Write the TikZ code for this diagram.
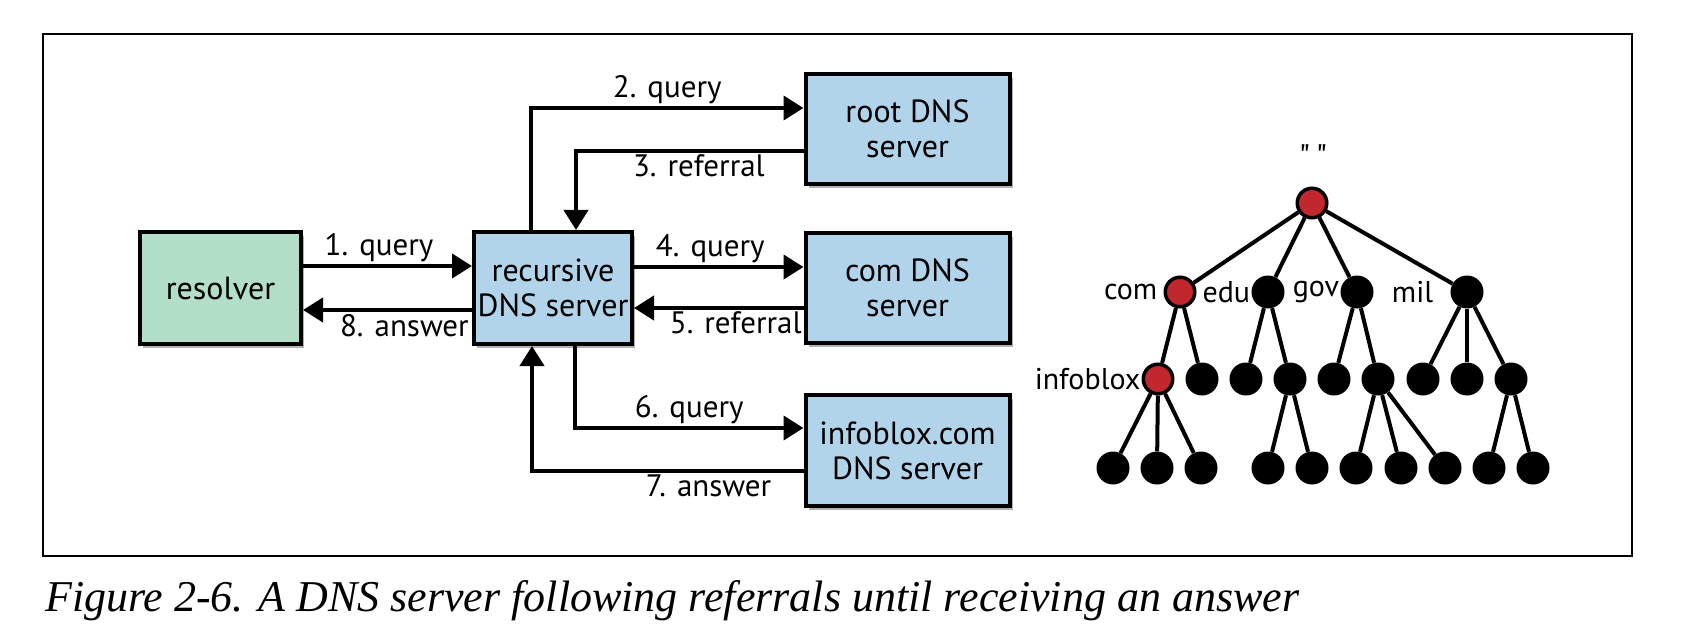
\documentclass[tikz,border=0pt]{standalone}
\usepackage{fontspec}
\newfontfamily\dsans{PT Sans}
\newfontfamily\capfont{Liberation Serif}
\usetikzlibrary{arrows.meta,shadows}
\definecolor{boxgreen}{HTML}{B3DFC9}
\definecolor{boxblue}{HTML}{B1D4EA}
\definecolor{nodered}{HTML}{C1272D}
\tikzset{
  box/.style={draw, line width=4pt, align=center, inner sep=0pt,
    font=\dsans\fontsize{32}{35}\selectfont,
    drop shadow={shadow xshift=3pt, shadow yshift=-4pt, opacity=0.3, fill=black}},
  conn/.style={line width=4pt, -{Triangle[length=20pt,width=24pt]}},
  lab/.style={font=\dsans\fontsize{31}{34}\selectfont, inner sep=2pt},
  tnode/.style={circle, fill=black, minimum size=33pt, inner sep=0pt},
  rnode/.style={circle, fill=nodered, draw=black, line width=3.5pt, minimum size=29.5pt, inner sep=0pt},
  tedge/.style={line width=4pt},
  tlab/.style={font=\dsans\fontsize{30}{32}\selectfont, inner sep=1pt}
}
\begin{document}
\begin{tikzpicture}[x=1pt,y=-1pt]
\useasboundingbox (0,0) rectangle (1689,639);
\draw[line width=1.3pt] (43,34) rectangle (1632,556);

% boxes
\node[box, fill=boxgreen, minimum width=161pt, minimum height=112pt] (res) at (220.5,288) {resolver};
\node[box, fill=boxblue, minimum width=158pt, minimum height=112pt] (rec) at (553,288) {recursive\\DNS server};
\node[box, fill=boxblue, minimum width=204pt, minimum height=110pt] (root) at (907.5,129) {root DNS\\server};
\node[box, fill=boxblue, minimum width=204pt, minimum height=110pt] (com) at (907.5,288) {com DNS\\server};
\node[box, fill=boxblue, minimum width=204pt, minimum height=111pt] (info) at (907.5,450.5) {infoblox.com\\DNS server};

% connectors
\draw[conn] ([yshift=22pt]res.east) -- node[lab, above, pos=0.45] {1. query} ([yshift=22pt]rec.west);
\draw[conn] ([yshift=-22pt]rec.west) -- node[lab, below, pos=0.4] {8. answer} ([yshift=-22pt]res.east);
\draw[conn] ([xshift=-22pt]rec.north) |- node[lab, above, pos=0.75] {2. query} ([yshift=21pt]root.west);
\draw[conn] ([yshift=-22pt]root.west) -| node[lab, below, pos=0.23] {3. referral} ([xshift=23pt]rec.north);
\draw[conn] ([yshift=21pt]rec.east) -- node[lab, above, pos=0.45] {4. query} ([yshift=21pt]com.west);
\draw[conn] ([yshift=-20pt]com.west) -- node[lab, below, pos=0.4] {5. referral} ([yshift=-20pt]rec.east);
\draw[conn] ([xshift=22pt]rec.south) |- node[lab, above, pos=0.75] {6. query} ([yshift=22.5pt]info.west);
\draw[conn] ([yshift=-20.5pt]info.west) -| node[lab, below, pos=0.175] {7. answer} ([xshift=-21pt]rec.south);

% tree
\node[rnode] (t0) at (1312,203) {};
\node[rnode] (tcom) at (1180,292) {};
\node[tnode] (tedu) at (1268,292) {};
\node[tnode] (tgov) at (1357,292) {};
\node[tnode] (tmil) at (1467,292) {};
\node[rnode] (ta1) at (1158,379) {};
\node[tnode] (ta2) at (1202,379) {};
\node[tnode] (tb1) at (1246,379) {};
\node[tnode] (tb2) at (1290,379) {};
\node[tnode] (tc1) at (1334,379) {};
\node[tnode] (tc2) at (1378,379) {};
\node[tnode] (td1) at (1423,379) {};
\node[tnode] (td2) at (1467,379) {};
\node[tnode] (td3) at (1511,379) {};
\node[tnode] (u1) at (1113,468) {};
\node[tnode] (u2) at (1157,468) {};
\node[tnode] (u3) at (1201,468) {};
\node[tnode] (u4) at (1268,468) {};
\node[tnode] (u5) at (1312,468) {};
\node[tnode] (u6) at (1356,468) {};
\node[tnode] (u7) at (1401,468) {};
\node[tnode] (u8) at (1445,468) {};
\node[tnode] (u9) at (1489,468) {};
\node[tnode] (u10) at (1533,468) {};

\foreach \a/\b in {t0/tcom,t0/tedu,t0/tgov,t0/tmil,
  tcom/ta1,tcom/ta2,tedu/tb1,tedu/tb2,tgov/tc1,tgov/tc2,tmil/td1,tmil/td2,tmil/td3,
  ta1/u1,ta1/u2,ta1/u3,tb2/u4,tb2/u5,tc2/u6,tc2/u7,tc2/u8,td3/u9,td3/u10}
  \draw[tedge] (\a) -- (\b);

\node[tlab, anchor=south, font=\dsans\fontsize{34}{36}\selectfont] (lroot) at (1313,170) {"\,"};
\node[tlab, left=5pt] (lcom) at (tcom.west) {com};
\node[tlab, left=0pt] (ledu) at (tedu.west) {edu};
\node[tlab, left=0pt] (lgov) at (tgov.west) {gov};
\node[tlab, left=16pt] (lmil) at (tmil.west) {mil};
\node[tlab, left=0pt] (linfo) at (ta1.west) {infoblox};

% caption
\node[anchor=base west, inner sep=0pt, font=\capfont\itshape\fontsize{44}{48}\selectfont] (cap) at (45,611) {Figure 2-6. A DNS server following referrals until receiving an answer};
\end{tikzpicture}
\end{document}
